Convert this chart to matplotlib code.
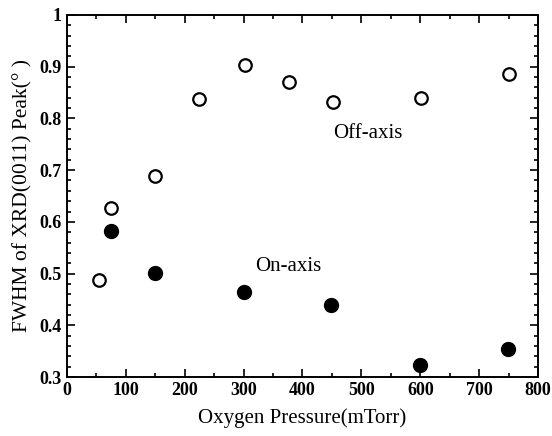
import matplotlib
matplotlib.use("Agg")
import matplotlib.pyplot as plt
from matplotlib.ticker import MultipleLocator

off_x = [55, 75, 150, 225, 302, 377, 451, 601, 750]
off_y = [0.488, 0.627, 0.688, 0.838, 0.904, 0.871, 0.832, 0.840, 0.885]
on_x = [75, 150, 301, 449, 600, 749]
on_y = [0.583, 0.502, 0.464, 0.439, 0.323, 0.355]

fig = plt.figure(figsize=(5.52, 4.36), dpi=100)
ax = fig.add_axes([0.121, 0.135, 0.854, 0.831])

ax.plot(off_x, off_y, 'o', mfc='white', mec='black', mew=1.6, ms=9, ls='none')
ax.plot(on_x, on_y, 'o', mfc='black', mec='black', ms=10, ls='none')

ax.set_xlim(0, 800)
ax.set_ylim(0.3, 1.0)
ax.xaxis.set_major_locator(MultipleLocator(100))
ax.yaxis.set_major_locator(MultipleLocator(0.1))
ax.yaxis.set_minor_locator(MultipleLocator(0.02))
ax.xaxis.set_minor_locator(MultipleLocator(50))
ax.tick_params(which='both', direction='in', top=True, right=True, width=1.2)
ax.tick_params(which='major', length=6)
ax.tick_params(which='minor', length=3)
for s in ax.spines.values():
    s.set_linewidth(1.4)

ax.set_xticks(range(0, 801, 100))
ax.set_xticklabels([str(v) for v in range(0, 801, 100)])
ax.set_yticks([0.3, 0.4, 0.5, 0.6, 0.7, 0.8, 0.9, 1.0])
ax.set_yticklabels(['0.3', '0.4', '0.5', '0.6', '0.7', '0.8', '0.9', '1'])
for lab in ax.get_xticklabels() + ax.get_yticklabels():
    lab.set_fontfamily('Liberation Serif')
    lab.set_fontweight('bold')
    lab.set_fontsize(13)

ax.set_xlabel('Oxygen Pressure(mTorr)', fontfamily='Liberation Serif', fontsize=15, labelpad=7)
ax.set_ylabel('FWHM of XRD(0011) Peak(° )', fontfamily='Liberation Serif', fontsize=15.5, labelpad=5)

ax.text(511, 0.770, 'Off-axis', fontfamily='Liberation Serif', fontsize=15, ha='center', va='center')
ax.text(375, 0.513, 'On-axis', fontfamily='Liberation Serif', fontsize=15, ha='center', va='center')

fig.savefig('out.png', dpi=100)
